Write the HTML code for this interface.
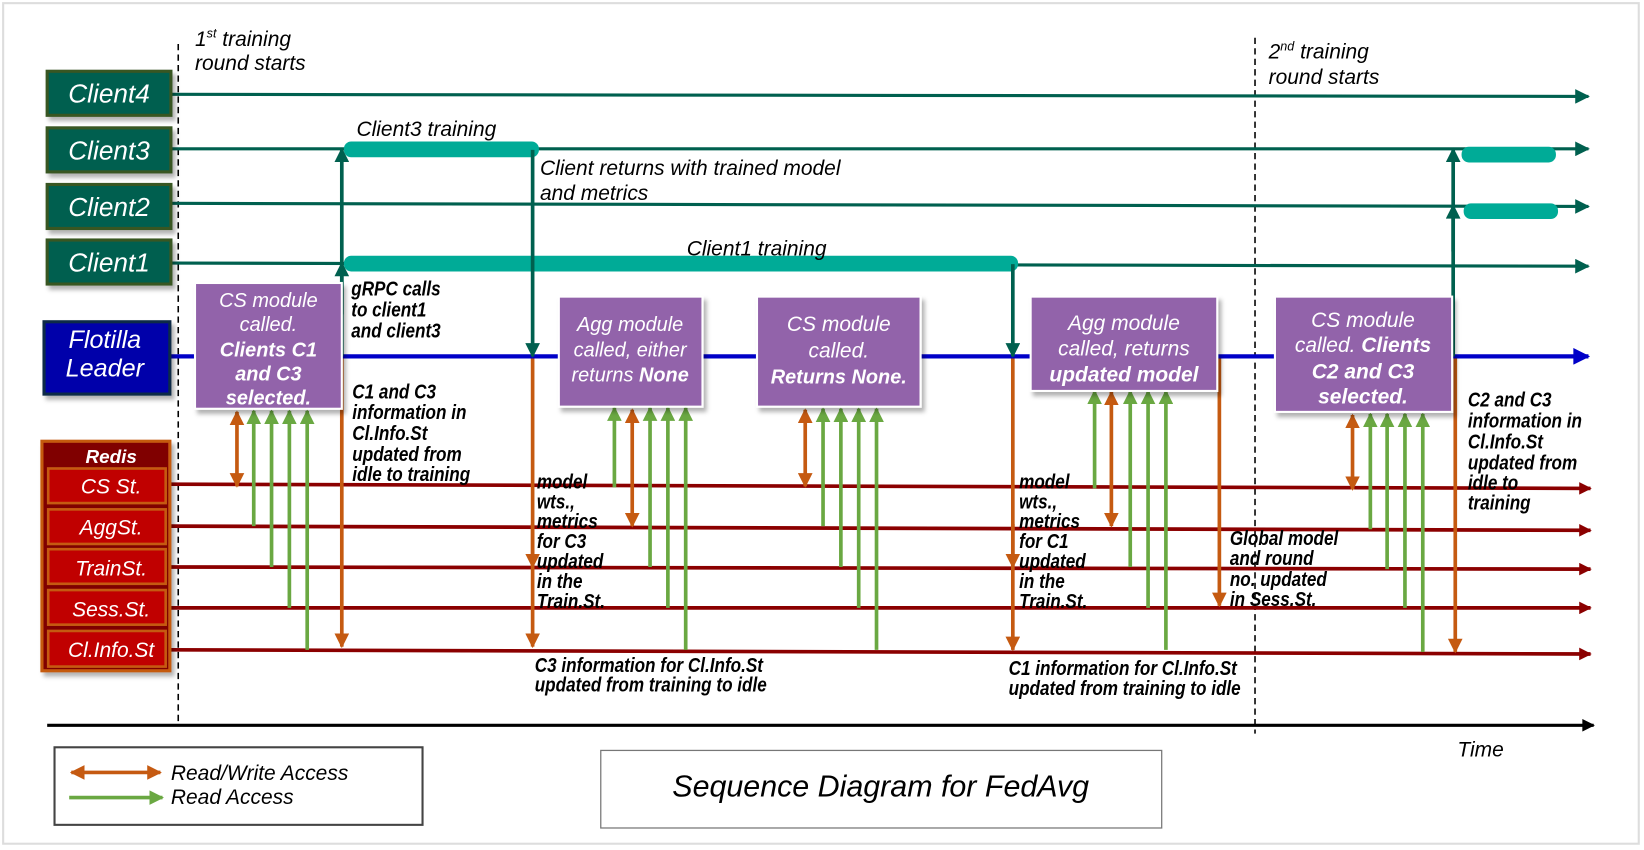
<!DOCTYPE html>
<html><head><meta charset="utf-8"><style>
html,body{margin:0;padding:0;background:#fff;width:1644px;height:850px;overflow:hidden}
svg{display:block}
text{font-family:"Liberation Sans",sans-serif;font-style:italic}
.w{fill:#fff}
.b{font-weight:bold}
.an{font-weight:bold;font-size:19px;fill:#000}
</style></head><body>
<svg width="1644" height="850" viewBox="0 0 1568 811" preserveAspectRatio="none" xmlns="http://www.w3.org/2000/svg">
<defs>
<marker id="mt" viewBox="0 0 10 10" refX="9" refY="5" markerWidth="16" markerHeight="14" markerUnits="userSpaceOnUse" orient="auto"><path d="M0,0L10,5L0,10z" fill="#00604f"/></marker>
<marker id="mb" viewBox="0 0 10 10" refX="9" refY="5" markerWidth="18" markerHeight="16" markerUnits="userSpaceOnUse" orient="auto"><path d="M0,0L10,5L0,10z" fill="#0000c8"/></marker>
<marker id="mr" viewBox="0 0 10 10" refX="9" refY="5" markerWidth="14" markerHeight="12" markerUnits="userSpaceOnUse" orient="auto"><path d="M0,0L10,5L0,10z" fill="#8b0000"/></marker>
<marker id="mo" viewBox="0 0 10 10" refX="9" refY="5" markerWidth="14" markerHeight="14" markerUnits="userSpaceOnUse" orient="auto-start-reverse"><path d="M0,0L10,5L0,10z" fill="#c55a11"/></marker>
<marker id="mg" viewBox="0 0 10 10" refX="9" refY="5" markerWidth="14" markerHeight="14" markerUnits="userSpaceOnUse" orient="auto"><path d="M0,0L10,5L0,10z" fill="#6aa842"/></marker>
<marker id="mk" viewBox="0 0 10 10" refX="9" refY="5" markerWidth="14" markerHeight="12" markerUnits="userSpaceOnUse" orient="auto"><path d="M0,0L10,5L0,10z" fill="#000"/></marker>
<filter id="sh" x="-10%" y="-10%" width="130%" height="130%"><feDropShadow dx="3" dy="4" stdDeviation="2" flood-color="#000" flood-opacity="0.3"/></filter>
</defs>
<rect x="3" y="3" width="1560" height="802" fill="#fff" stroke="#ddd" stroke-width="2"/>

<line x1="170" y1="42" x2="170" y2="690" stroke="#000" stroke-width="1.5" stroke-dasharray="6,4"/>
<line x1="1197" y1="36" x2="1197" y2="700" stroke="#000" stroke-width="1.5" stroke-dasharray="6,4"/>
<text x="186" y="44" font-size="20">1<tspan font-size="12" dy="-8">st</tspan><tspan dy="8"> training</tspan></text>
<text x="186" y="67" font-size="20">round starts</text>
<text x="1210" y="56" font-size="20">2<tspan font-size="12" dy="-8">nd</tspan><tspan dy="8"> training</tspan></text>
<text x="1210" y="80" font-size="20">round starts</text>

<g stroke="#00604f" stroke-width="3" fill="none">
<line x1="163" y1="90" x2="1515" y2="92" marker-end="url(#mt)"/>
<line x1="163" y1="142" x2="1515" y2="142" marker-end="url(#mt)"/>
<line x1="163" y1="194" x2="1515" y2="197" marker-end="url(#mt)"/>
<line x1="163" y1="251" x2="1515" y2="254" marker-end="url(#mt)"/>
</g>
<g fill="#00ab97">
<rect x="328" y="135" width="186" height="15" rx="7"/>
<rect x="328" y="244" width="643" height="15" rx="7"/>
<rect x="1394" y="140" width="90" height="15" rx="7"/>
<rect x="1396" y="194" width="90" height="15" rx="7"/>
</g>
<text x="340" y="130" font-size="20">Client3 training</text>
<text x="655" y="244" font-size="20">Client1 training</text>
<text x="515" y="167" font-size="20">Client returns with trained model</text>
<text x="515" y="191" font-size="20">and metrics</text>

<line x1="163" y1="340" x2="1515" y2="340" stroke="#0000c8" stroke-width="4" marker-end="url(#mb)"/>

<g stroke="#8b0000" stroke-width="3.5">
<line x1="162" y1="462" x2="1517" y2="466" marker-end="url(#mr)"/>
<line x1="162" y1="502" x2="1517" y2="506" marker-end="url(#mr)"/>
<line x1="162" y1="541" x2="1517" y2="543" marker-end="url(#mr)"/>
<line x1="162" y1="580" x2="1517" y2="580" marker-end="url(#mr)"/>
<line x1="162" y1="620" x2="1517" y2="624" marker-end="url(#mr)"/>
</g>

<g stroke="#00604f" stroke-width="3.5">
<line x1="326" y1="340" x2="326" y2="142" marker-end="url(#mt)"/>
<line x1="326" y1="300" x2="326" y2="251" marker-end="url(#mt)"/>
<line x1="508" y1="143" x2="508" y2="340" marker-end="url(#mt)"/>
<line x1="966" y1="252" x2="966" y2="340" marker-end="url(#mt)"/>
<line x1="1386" y1="340" x2="1386" y2="142" marker-end="url(#mt)"/>
<line x1="1386" y1="240" x2="1386" y2="196" marker-end="url(#mt)"/>
</g>

<g stroke="#c55a11" stroke-width="3.5">
<line x1="326" y1="342" x2="326" y2="617" marker-end="url(#mo)"/>
<line x1="508" y1="342" x2="508" y2="617" marker-end="url(#mo)"/>
<line x1="508" y1="500" x2="508" y2="541" marker-end="url(#mo)"/>
<line x1="966" y1="342" x2="966" y2="620" marker-end="url(#mo)"/>
<line x1="966" y1="500" x2="966" y2="541" marker-end="url(#mo)"/>
<line x1="1163" y1="342" x2="1163" y2="578" marker-end="url(#mo)"/>
<line x1="1388" y1="342" x2="1388" y2="622" marker-end="url(#mo)"/>
<line x1="226" y1="393" x2="226" y2="464" marker-start="url(#mo)" marker-end="url(#mo)"/>
<line x1="603" y1="391" x2="603" y2="502" marker-start="url(#mo)" marker-end="url(#mo)"/>
<line x1="768" y1="391" x2="768" y2="464" marker-start="url(#mo)" marker-end="url(#mo)"/>
<line x1="1060" y1="374" x2="1060" y2="502" marker-start="url(#mo)" marker-end="url(#mo)"/>
<line x1="1290" y1="396" x2="1290" y2="467" marker-start="url(#mo)" marker-end="url(#mo)"/>
</g>
<g stroke="#6aa842" stroke-width="3.5">
<line x1="242" y1="502" x2="242" y2="392" marker-end="url(#mg)"/>
<line x1="259" y1="541" x2="259" y2="392" marker-end="url(#mg)"/>
<line x1="276" y1="580" x2="276" y2="392" marker-end="url(#mg)"/>
<line x1="293" y1="620" x2="293" y2="392" marker-end="url(#mg)"/>
<line x1="586" y1="465" x2="586" y2="389" marker-end="url(#mg)"/>
<line x1="620" y1="541" x2="620" y2="389" marker-end="url(#mg)"/>
<line x1="637" y1="580" x2="637" y2="389" marker-end="url(#mg)"/>
<line x1="654" y1="620" x2="654" y2="389" marker-end="url(#mg)"/>
<line x1="785" y1="502" x2="785" y2="390" marker-end="url(#mg)"/>
<line x1="802" y1="541" x2="802" y2="390" marker-end="url(#mg)"/>
<line x1="819" y1="580" x2="819" y2="390" marker-end="url(#mg)"/>
<line x1="836" y1="620" x2="836" y2="390" marker-end="url(#mg)"/>
<line x1="1044" y1="466" x2="1044" y2="373" marker-end="url(#mg)"/>
<line x1="1078" y1="541" x2="1078" y2="373" marker-end="url(#mg)"/>
<line x1="1095" y1="580" x2="1095" y2="373" marker-end="url(#mg)"/>
<line x1="1112" y1="620" x2="1112" y2="373" marker-end="url(#mg)"/>
<line x1="1307" y1="505" x2="1307" y2="395" marker-end="url(#mg)"/>
<line x1="1323" y1="543" x2="1323" y2="395" marker-end="url(#mg)"/>
<line x1="1340" y1="580" x2="1340" y2="395" marker-end="url(#mg)"/>
<line x1="1357" y1="622" x2="1357" y2="395" marker-end="url(#mg)"/>
</g>

<g fill="#005f50" stroke="#375623" stroke-width="3" filter="url(#sh)">
<rect x="45" y="68" width="118" height="42"/>
<rect x="45" y="122" width="118" height="42"/>
<rect x="45" y="176" width="118" height="42"/>
<rect x="45" y="229" width="118" height="42"/>
</g>
<g class="w" font-size="25" text-anchor="middle">
<text x="104" y="98">Client4</text>
<text x="104" y="152">Client3</text>
<text x="104" y="206">Client2</text>
<text x="104" y="259">Client1</text>
</g>
<rect x="42" y="307" width="120" height="69" fill="#0000aa" stroke="#0e2a47" stroke-width="3" filter="url(#sh)"/>
<g class="w" font-size="24" text-anchor="middle"><text x="100" y="332">Flotilla</text><text x="100" y="359">Leader</text></g>
<rect x="40" y="421" width="122" height="219" fill="#800000" stroke="#c55a11" stroke-width="3" filter="url(#sh)"/>
<g fill="#c00000" stroke="#c55a11" stroke-width="2.5">
<rect x="46" y="447" width="112" height="33"/>
<rect x="46" y="486" width="112" height="33"/>
<rect x="46" y="524" width="112" height="33"/>
<rect x="46" y="563" width="112" height="33"/>
<rect x="46" y="602" width="112" height="34"/>
</g>
<g class="w" text-anchor="middle" font-size="20">
<text x="106" y="442" class="w b" font-size="18">Redis</text>
<text x="106" y="471">CS St.</text>
<text x="106" y="510">AggSt.</text>
<text x="106" y="549">TrainSt.</text>
<text x="106" y="588">Sess.St.</text>
<text x="106" y="627">Cl.Info.St</text>
</g>

<g fill="#9263aa" stroke="#fff" stroke-width="2" filter="url(#sh)">
<rect x="186" y="270" width="140" height="120"/>
<rect x="533" y="283" width="137" height="105"/>
<rect x="722" y="283" width="156" height="105"/>
<rect x="983" y="283" width="178" height="90"/>
<rect x="1216" y="283" width="169" height="110"/>
</g>
<g class="w" font-size="19" text-anchor="middle">
<text x="256" y="293">CS module</text>
<text x="256" y="316">called.</text>
<text x="256" y="340" class="w b">Clients C1</text>
<text x="256" y="363" class="w b">and C3</text>
<text x="256" y="386" class="w b">selected.</text>
<text x="601" y="316">Agg module</text>
<text x="601" y="340">called, either</text>
<text x="601" y="364">returns <tspan font-weight="bold">None</tspan></text>
<text x="800" y="316" font-size="20">CS module</text>
<text x="800" y="341" font-size="20">called.</text>
<text x="800" y="366" class="w b">Returns None.</text>
<text x="1072" y="315" font-size="20">Agg module</text>
<text x="1072" y="339" font-size="20">called, returns</text>
<text x="1072" y="364" class="w b" font-size="20">updated model</text>
<text x="1300" y="312" font-size="20">CS module</text>
<text x="1300" y="336" font-size="20">called. <tspan font-weight="bold">Clients</tspan></text>
<text x="1300" y="361" class="w b" font-size="20">C2 and C3</text>
<text x="1300" y="385" class="w b" font-size="20">selected.</text>
</g>

<g transform="translate(335,0) scale(.86,1)"><text class="an" x="0" y="282">gRPC calls</text><text class="an" x="0" y="302">to client1</text><text class="an" x="0" y="322">and client3</text></g>
<g transform="translate(336,0) scale(.86,1)"><text class="an" x="0" y="380">C1 and C3</text><text class="an" x="0" y="400">information in</text><text class="an" x="0" y="420">Cl.Info.St</text><text class="an" x="0" y="440">updated from</text><text class="an" x="0" y="459">idle to training</text></g>
<g transform="translate(512,0) scale(.86,1)"><text class="an" x="0" y="466">model</text><text class="an" x="0" y="485">wts.,</text><text class="an" x="0" y="504">metrics</text><text class="an" x="0" y="523">for C3</text><text class="an" x="0" y="542">updated</text><text class="an" x="0" y="561">in the</text><text class="an" x="0" y="580">Train.St.</text></g>
<g transform="translate(972,0) scale(.86,1)"><text class="an" x="0" y="466">model</text><text class="an" x="0" y="485">wts.,</text><text class="an" x="0" y="504">metrics</text><text class="an" x="0" y="523">for C1</text><text class="an" x="0" y="542">updated</text><text class="an" x="0" y="561">in the</text><text class="an" x="0" y="580">Train.St.</text></g>
<g transform="translate(510,0) scale(.86,1)"><text class="an" x="0" y="641">C3 information for Cl.Info.St</text><text class="an" x="0" y="660">updated from training to idle</text></g>
<g transform="translate(962,0) scale(.86,1)"><text class="an" x="0" y="644">C1 information for Cl.Info.St</text><text class="an" x="0" y="663">updated from training to idle</text></g>
<g transform="translate(1173,0) scale(.86,1)"><text class="an" x="0" y="520">Global model</text><text class="an" x="0" y="539">and round</text><text class="an" x="0" y="559">no. updated</text><text class="an" x="0" y="578">in Sess.St.</text></g>
<g transform="translate(1400,0) scale(.86,1)"><text class="an" x="0" y="388">C2 and C3</text><text class="an" x="0" y="408">information in</text><text class="an" x="0" y="428">Cl.Info.St</text><text class="an" x="0" y="448">updated from</text><text class="an" x="0" y="467">idle to</text><text class="an" x="0" y="486">training</text></g>

<line x1="45" y1="692" x2="1520" y2="692" stroke="#000" stroke-width="3" marker-end="url(#mk)"/>
<text x="1390" y="722" font-size="20">Time</text>

<rect x="52" y="713" width="351" height="74" fill="#fff" stroke="#444" stroke-width="2"/>
<line x1="68" y1="737" x2="153" y2="737" stroke="#c55a11" stroke-width="3.5" marker-start="url(#mo)" marker-end="url(#mo)"/>
<line x1="66" y1="761" x2="155" y2="761" stroke="#6aa842" stroke-width="3.5" marker-end="url(#mg)"/>
<text x="163" y="744" font-size="20">Read/Write Access</text>
<text x="163" y="767" font-size="20">Read Access</text>

<rect x="573" y="716" width="535" height="74" fill="#fff" stroke="#777" stroke-width="1.2"/>
<text x="840" y="760" font-size="29" text-anchor="middle">Sequence Diagram for FedAvg</text>
</svg>
</body></html>
